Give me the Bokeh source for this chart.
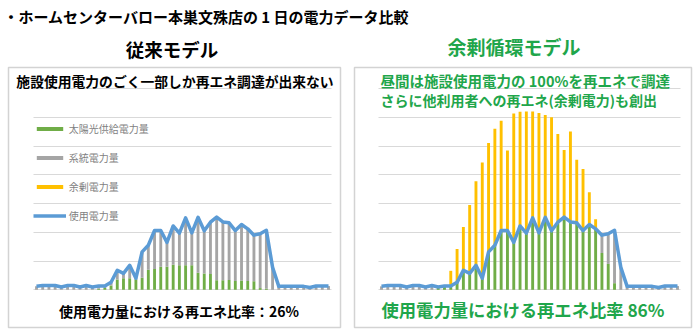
import numpy as np
from bokeh.plotting import figure
from bokeh.models import Range1d, ColumnDataSource, Grid, FixedTicker, Legend, LegendItem
from bokeh.core.properties import value
from bokeh.embed import file_html
from bokeh.resources import INLINE

# ---------------- data (30-minute slots over one day) ----------------
slots = list(range(48))

usage = [0.12, 0.15, 0.15, 0.15, 0.10, 0.15, 0.15, 0.10, 0.15, 0.10, 0.13, 0.13,
         0.26, 0.68, 0.57, 0.85, 0.40, 1.32, 1.55, 2.06, 2.06, 1.65, 2.22, 1.97,
         2.50, 1.98, 2.52, 2.05, 2.35, 2.53, 2.36, 2.33, 2.06, 2.27, 2.12, 1.90,
         1.95, 2.07, 0.78, 0.12, 0.12, 0.12, 0.12, 0.12, 0.08, 0.13, 0.13, 0.13]

solar_conventional = [0, 0, 0, 0, 0, 0, 0, 0, 0, 0, 0.04, 0.06,
                      0.15, 0.36, 0.40, 0.40, 0.37, 0.42, 0.70, 0.72, 0.80, 0.80, 0.87, 0.85,
                      0.85, 0.85, 0.59, 0.57, 0.55, 0.33, 0.33, 0.34, 0.31, 0.32, 0.31, 0.30,
                      0.06, 0.04, 0, 0, 0, 0, 0, 0, 0, 0, 0, 0]

solar_surplus = [0, 0, 0, 0, 0, 0, 0, 0, 0, 0.10, 0.14, 0.66,
                 1.42, 2.18, 2.95, 3.77, 4.43, 5.10, 5.60, 5.88, 4.84, 6.13, 6.19, 6.20,
                 6.20, 6.15, 6.08, 6.00, 5.42, 4.86, 5.50, 4.52, 4.20, 3.39, 2.45, 1.28,
                 0.90, 0.23, 0, 0, 0, 0, 0, 0, 0, 0, 0, 0]

grid_ticks = [0, 1, 2, 3, 4, 5, 6, 7]

legend_labels = ["太陽光供給電力量", "系統電力量", "余剰電力量", "使用電力量"]
series_colors = ["#70ad47", "#a5a5a5", "#ffc000"]
line_color = "#5b9bd5"

title_main = "・ホームセンターバロー本巣文殊店の 1 日の電力データ比較"
title_left = "従来モデル"
title_right = "余剰循環モデル"
sub_left = "施設使用電力のごく一部しか再エネ調達が出来ない"
sub_right_1 = "昼間は施設使用電力の 100%を再エネで調達"
sub_right_2 = "さらに他利用者への再エネ(余剰電力)も創出"
ratio_left = "使用電力量における再エネ比率：26%"
ratio_right = "使用電力量における再エネ比率 86%"


def split(gen, use):
    gen = np.asarray(gen, dtype=float)
    use = np.asarray(use, dtype=float)
    green = np.minimum(gen, use)
    return green, use - green, gen - green


gl, gyl, yl = split(solar_conventional, usage)
gr, gyr, yr = split(solar_surplus, usage)

src_l = ColumnDataSource(dict(slot=slots, green=gl, gray=gyl, yellow=yl, usage=usage))
src_r = ColumnDataSource(dict(slot=slots, green=gr, gray=gyr, yellow=yr, usage=usage))

# ---------------- layout geometry (pixels) ----------------
W, H = 700, 336
base_px = 289.3          # baseline position from top
unit_px = 28.76          # pixels per gridline unit
l_x0, l_step = 36.0, 292.0 / 47
r_x0, r_step = 381.0, 296.0 / 47

FONT_NAME = "Noto Sans CJK JP"
FONT = value(FONT_NAME)
GREEN_TXT = "#1fa64b"

p = figure(width=W, height=H, output_backend="svg", toolbar_location=None,
           x_axis_location=None, y_axis_location=None, min_border=0,
           x_range=Range1d(-l_x0 / l_step, (W - l_x0) / l_step),
           y_range=Range1d(-(H - base_px) / unit_px, base_px / unit_px),
           outline_line_color=None, background_fill_color="white",
           border_fill_color="white")
p.extra_x_ranges = {"right": Range1d(-r_x0 / r_step, (W - r_x0) / r_step),
                    "px": Range1d(0, W)}
p.extra_y_ranges = {"pxy": Range1d(H, 0)}
p.center = [r for r in p.center if not isinstance(r, Grid)]

for rname in ["default", "right"]:
    g = Grid(dimension=1, ticker=FixedTicker(ticks=grid_ticks),
             cross_bounds=(-0.5, 47.5), x_range_name=rname,
             grid_line_color="#d9d9d9", grid_line_width=1)
    p.add_layout(g)

# panel boxes
p.quad(left=[8, 354], right=[340, 691], top=[67, 67], bottom=[327, 327],
       x_range_name="px", y_range_name="pxy",
       fill_color=None, line_color="#d3d3d3", line_width=1.5)

# bars + lines
bars_l = p.vbar_stack(["green", "gray", "yellow"], x="slot", width=0.46,
                      fill_color=series_colors, line_color=None, source=src_l)
line_l = p.line("slot", "usage", source=src_l, line_color=line_color,
                line_width=3.5, line_join="round")
bars_r = p.vbar_stack(["green", "gray", "yellow"], x="slot", width=0.46,
                      fill_color=series_colors, line_color=None, source=src_r,
                      x_range_name="right")
line_r = p.line("slot", "usage", source=src_r, line_color=line_color,
                line_width=3.5, line_join="round", x_range_name="right")

# texts
def txt(x, y, s, size, color="black", align="left"):
    p.text(x=[x], y=[y], text=[s], x_range_name="px", y_range_name="pxy",
           text_font=FONT, text_font_style="bold", text_font_size=size,
           text_color=color, text_align=align, text_baseline="middle")

txt(3, 16, title_main, "15px")
txt(171.5, 48, title_left, "18.5px", align="center")
txt(513.5, 46, title_right, "19px", color=GREEN_TXT, align="center")
txt(174.5, 80, sub_left, "13.8px", align="center")
txt(380, 80, sub_right_1, "14.5px", color=GREEN_TXT)
txt(380, 99, sub_right_2, "14px", color=GREEN_TXT)
txt(178.5, 310, ratio_left, "14px", align="center")
txt(522.5, 309, ratio_right, "17.3px", color=GREEN_TXT, align="center")

legend = Legend(items=[LegendItem(label=legend_labels[0], renderers=[bars_l[0]]),
                       LegendItem(label=legend_labels[1], renderers=[bars_l[1]]),
                       LegendItem(label=legend_labels[2], renderers=[bars_l[2]]),
                       LegendItem(label=legend_labels[3], renderers=[line_l])],
                location=(32.7, 111), orientation="vertical", padding=0, margin=0,
                spacing=9, label_height=20, glyph_height=5, glyph_width=33,
                label_standoff=3, label_text_font=FONT_NAME, label_text_font_size="10px",
                label_text_color="#7f7f7f", background_fill_alpha=0,
                border_line_alpha=0)
p.add_layout(legend)

open("out.html", "w").write(file_html(p, INLINE))
